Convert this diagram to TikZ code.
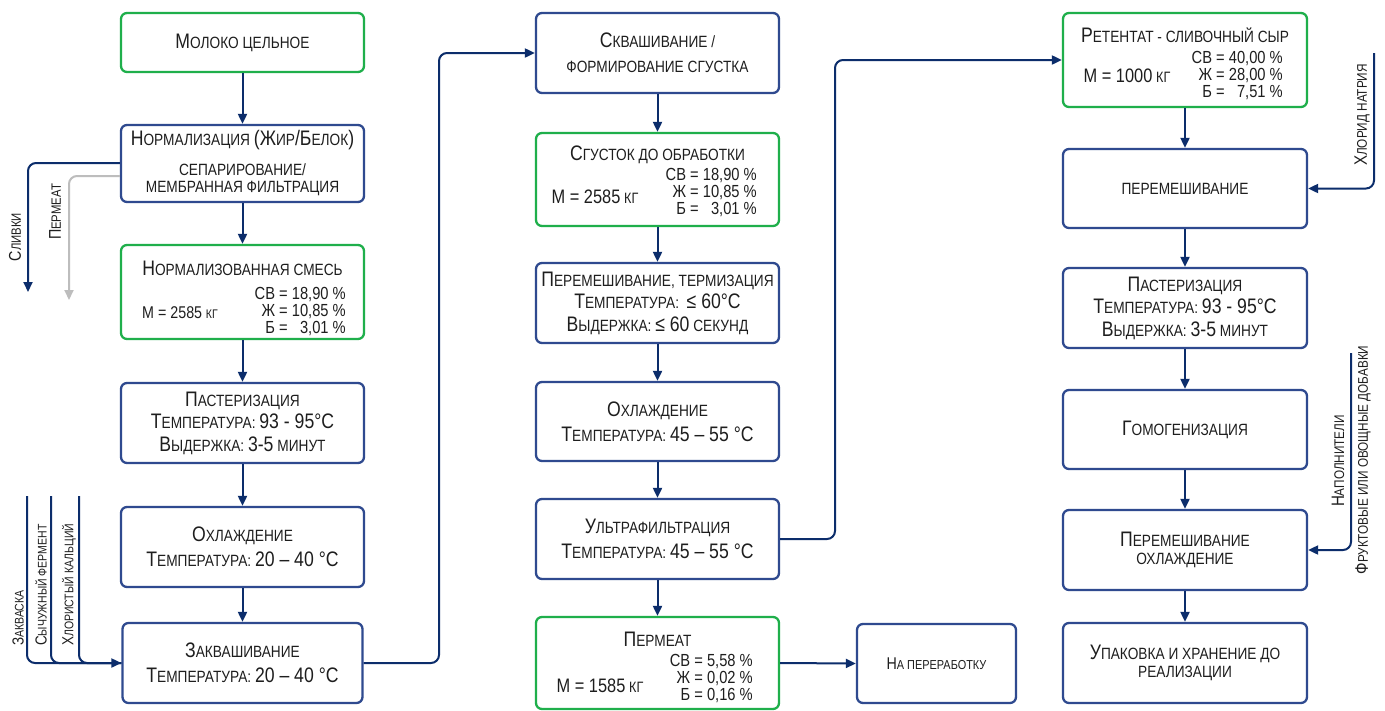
\documentclass[tikz,border=0pt]{standalone}
\usepackage{fontspec}
\setmainfont{Liberation Sans}[FakeStretch=0.84]
\usetikzlibrary{arrows.meta}
\definecolor{gbc}{HTML}{1FAF4B}
\definecolor{bbc}{HTML}{2F4A8F}
\definecolor{navy}{HTML}{0C2D6B}
\definecolor{txt}{HTML}{1E1E1E}
\definecolor{grayline}{HTML}{BDBDBD}
\newcommand\B[1]{{\fontsize{21}{10}\selectfont #1}}
\newcommand\Bs[2]{{\fontsize{#1}{10}\selectfont #2}}
\newcommand\fs{\fontsize{16.3}{22.5}\selectfont}
\newcommand\fd{\fontsize{17.5}{15.5}\selectfont}
\tikzset{
  box/.style={draw=bbc, line width=2.3pt, rounded corners=6pt, fill=white, inner sep=0pt,
    align=center, text=txt, font=\fs, minimum width=243pt},
  gbox/.style={box, draw=gbc},
  tx/.style={inner sep=0pt, text=txt, align=center, font=\fs},
  dat/.style={inner sep=0pt, text=txt, font=\fd, anchor=east},
  flow/.style={draw=navy, line width=2pt, rounded corners=8pt, -{Triangle[length=10pt,width=9pt]}},
  plain/.style={draw=navy, line width=2pt, rounded corners=8pt},
  gflow/.style={draw=grayline, line width=2pt, rounded corners=8pt, -{Triangle[length=10pt,width=9pt]}},
  sidel/.style={inner sep=0pt, text=txt, rotate=90, font=\fontsize{13.5}{15}\selectfont},
  inl/.style={inner sep=0pt, text=txt, rotate=90, anchor=west, font=\fontsize{12.5}{14}\selectfont},
  rl/.style={inner sep=0pt, text=txt, rotate=90, font=\fontsize{14}{15}\selectfont},
}
\begin{document}
\begin{tikzpicture}[x=1pt,y=-1pt]
\useasboundingbox[fill=white] (0,0) rectangle (1385,710);

% ---------- column 1 ----------
\node[gbox, minimum height=59pt] (m1) at (242.5,42.5) {\B{М}ОЛОКО ЦЕЛЬНОЕ};
\node[box, minimum height=77pt] (m2) at (242.5,163.5)
  {\B{Н}ОРМАЛИЗАЦИЯ \B{(Ж}ИР\B{/Б}ЕЛОК\B{)}\\[7.5pt]СЕПАРИРОВАНИЕ/\\[-5.5pt]МЕМБРАННАЯ ФИЛЬТРАЦИЯ};
\node[gbox, minimum height=94pt] (m3) at (242.5,292) {};
\node[tx] (m3t) at (242.5,268) {\B{Н}ОРМАЛИЗОВАННАЯ СМЕСЬ};
\node[tx] (m3m) at (180,313) {\Bs{17}{М = 2585} \Bs{12.5}{КГ}};
\node[dat] (m3d) at (346,312.5) {\begin{tabular}{@{}r@{ = }r@{}}СВ&18,90 \%\\Ж&10,85 \%\\Б&3,01 \%\end{tabular}};
\node[box, minimum height=80pt] (m4) at (242.5,423)
  {\B{П}АСТЕРИЗАЦИЯ\\\B{Т}ЕМПЕРАТУРА: \B{93 - 95°C}\\\B{В}ЫДЕРЖКА: \B{3-5} МИНУТ};
\node[box, minimum height=80pt] (m5) at (242.5,547)
  {\B{О}ХЛАЖДЕНИЕ\\[2.5pt]\B{Т}ЕМПЕРАТУРА: \B{20 – 40 °C}};
\node[box, minimum height=80pt, minimum width=240pt] (m6) at (242.5,663)
  {\B{З}АКВАШИВАНИЕ\\[2.5pt]\B{Т}ЕМПЕРАТУРА: \B{20 – 40 °C}};

\draw[flow] (m1.south) -- (m2.north);
\draw[flow] (m2.south) -- (m3.north);
\draw[flow] (m3.south) -- (m4.north);
\draw[flow] (m4.south) -- (m5.north);
\draw[flow] (m5.south) -- (m6.north);

% outputs of normalisation
\coordinate (slend) at (28,292);
\coordinate (pmend) at (69,300);
\draw[flow] ([yshift=0.5pt]m2.west) -| (slend);
\draw[gflow] ([yshift=-12.5pt]m2.west) -| (pmend);
\node[sidel] (lsl) at (15,237) {\Bs{17}{С}ЛИВКИ};
\node[sidel] (lpm) at (55,212) {\Bs{17}{П}ЕРМЕАТ};

% inputs to zakvashivanie
\coordinate (i1) at (27,496);
\coordinate (i2) at (51,496);
\coordinate (i3) at (79,496);
\draw[plain] (i2) |- (m6.west);
\draw[plain] (i3) |- (m6.west);
\draw[flow] (i1) |- (m6.west);
\node[inl] (l1) at (18,646) {\Bs{16}{З}АКВАСКА};
\node[inl] (l2) at (41,646) {\Bs{16}{С}ЫЧУЖНЫЙ ФЕРМЕНТ};
\node[inl] (l3) at (69,646) {\Bs{16}{Х}ЛОРИСТЫЙ КАЛЬЦИЙ};

% ---------- column 2 ----------
\node[box, minimum height=80pt] (c1) at (657.5,53)
  {\B{С}КВАШИВАНИЕ /\\[2.5pt]ФОРМИРОВАНИЕ СГУСТКА};
\node[gbox, minimum height=93pt] (c2) at (657.5,179.5) {};
\node[tx] (c2t) at (657.5,155) {\B{С}ГУСТОК ДО ОБРАБОТКИ};
\node[tx] (c2m) at (595,196.5) {\Bs{19.5}{М = 2585} \Bs{15}{КГ}};
\node[dat] (c2d) at (757,194) {\begin{tabular}{@{}r@{ = }r@{}}СВ&18,90 \%\\Ж&10,85 \%\\Б&3,01 \%\end{tabular}};
\node[box, minimum height=80pt] (c3) at (657.5,303)
  {\B{П}ЕРЕМЕШИВАНИЕ, ТЕРМИЗАЦИЯ\\\B{Т}ЕМПЕРАТУРА: \ \B{≤ 60°C}\\\B{В}ЫДЕРЖКА: \B{≤ 60} СЕКУНД};
\node[box, minimum height=79pt] (c4) at (657.5,421.5)
  {\B{О}ХЛАЖДЕНИЕ\\[2.5pt]\B{Т}ЕМПЕРАТУРА: \B{45 – 55 °C}};
\node[box, minimum height=80pt] (c5) at (657.5,539)
  {\B{У}ЛЬТРАФИЛЬТРАЦИЯ\\[2.5pt]\B{Т}ЕМПЕРАТУРА: \B{45 – 55 °C}};
\node[gbox, minimum height=92pt] (c6) at (657.5,663) {};
\node[tx] (c6t) at (657.5,639.5) {\B{П}ЕРМЕАТ};
\node[tx] (c6m) at (600,685.5) {\Bs{19.5}{М = 1585} \Bs{15}{КГ}};
\node[dat] (c6d) at (753,679.5) {\begin{tabular}{@{}r@{ = }r@{}}СВ&5,58 \%\\Ж&0,02 \%\\Б&0,16 \%\end{tabular}};
\node[box, minimum height=79pt, minimum width=159pt] (np) at (936.5,663.5)
  {\Bs{17}{Н}\Bs{13}{А ПЕРЕРАБОТКУ}};

\draw[flow] (c1.south) -- (c2.north);
\draw[flow] (c2.south) -- (c3.north);
\draw[flow] (c3.south) -- (c4.north);
\draw[flow] (c4.south) -- (c5.north);
\draw[flow] (c5.south) -- (c6.north);
\draw[flow] (c6.east) -- (np.west);

% ---------- column 3 ----------
\node[gbox, minimum height=94pt, minimum width=244pt] (r1) at (1185,60) {};
\node[tx] (r1t) at (1185,35.5) {\B{Р}ЕТЕНТАТ - СЛИВОЧНЫЙ СЫР};
\node[tx] (r1m) at (1127,75.5) {\Bs{19.5}{М = 1000} \Bs{15}{КГ}};
\node[dat] (r1d) at (1283,76.5) {\begin{tabular}{@{}r@{ = }r@{}}СВ&40,00 \%\\Ж&28,00 \%\\Б&7,51 \%\end{tabular}};
\node[box, minimum height=79pt, minimum width=244pt] (r2) at (1185,188.5) {ПЕРЕМЕШИВАНИЕ};
\node[box, minimum height=80pt, minimum width=244pt] (r3) at (1185,308)
  {\B{П}АСТЕРИЗАЦИЯ\\\B{Т}ЕМПЕРАТУРА: \B{93 - 95°C}\\\B{В}ЫДЕРЖКА: \B{3-5} МИНУТ};
\node[box, minimum height=79pt, minimum width=244pt] (r4) at (1185,429.5) {\B{Г}ОМОГЕНИЗАЦИЯ};
\node[box, minimum height=80pt, minimum width=244pt] (r5) at (1185,550)
  {\B{П}ЕРЕМЕШИВАНИЕ\\[-4.5pt]ОХЛАЖДЕНИЕ};
\node[box, minimum height=80pt, minimum width=244pt] (r6) at (1185,663)
  {\B{У}ПАКОВКА И ХРАНЕНИЕ ДО\\[-4.5pt]РЕАЛИЗАЦИИ};

\draw[flow] (r1.south) -- (r2.north);
\draw[flow] (r2.south) -- (r3.north);
\draw[flow] (r3.south) -- (r4.north);
\draw[flow] (r4.south) -- (r5.north);
\draw[flow] (r5.south) -- (r6.north);

% right inputs
\coordinate (hn) at (1374,53);
\draw[flow] (hn) |- (r2.east);
\node[rl] (lhn) at (1362,115) {\Bs{18}{Х}ЛОРИД НАТРИЯ};
\coordinate (fr) at (1351,353);
\draw[flow] (fr) |- (r5.east);
\node[rl] (lnap) at (1338,461) {\Bs{18}{Н}АПОЛНИТЕЛИ};
\node[rl] (lfr) at (1363,460) {\Bs{18}{Ф}РУКТОВЫЕ ИЛИ ОВОЩНЫЕ ДОБАВКИ};

% ---------- long connectors ----------
\coordinate (j1) at (439,350);
\draw[flow] (m6.east) -| (j1) |- (c1.west);
\coordinate (j2) at (835,300);
\draw[flow] (c5.east) -| (j2) |- (r1.west);
\end{tikzpicture}
\end{document}
